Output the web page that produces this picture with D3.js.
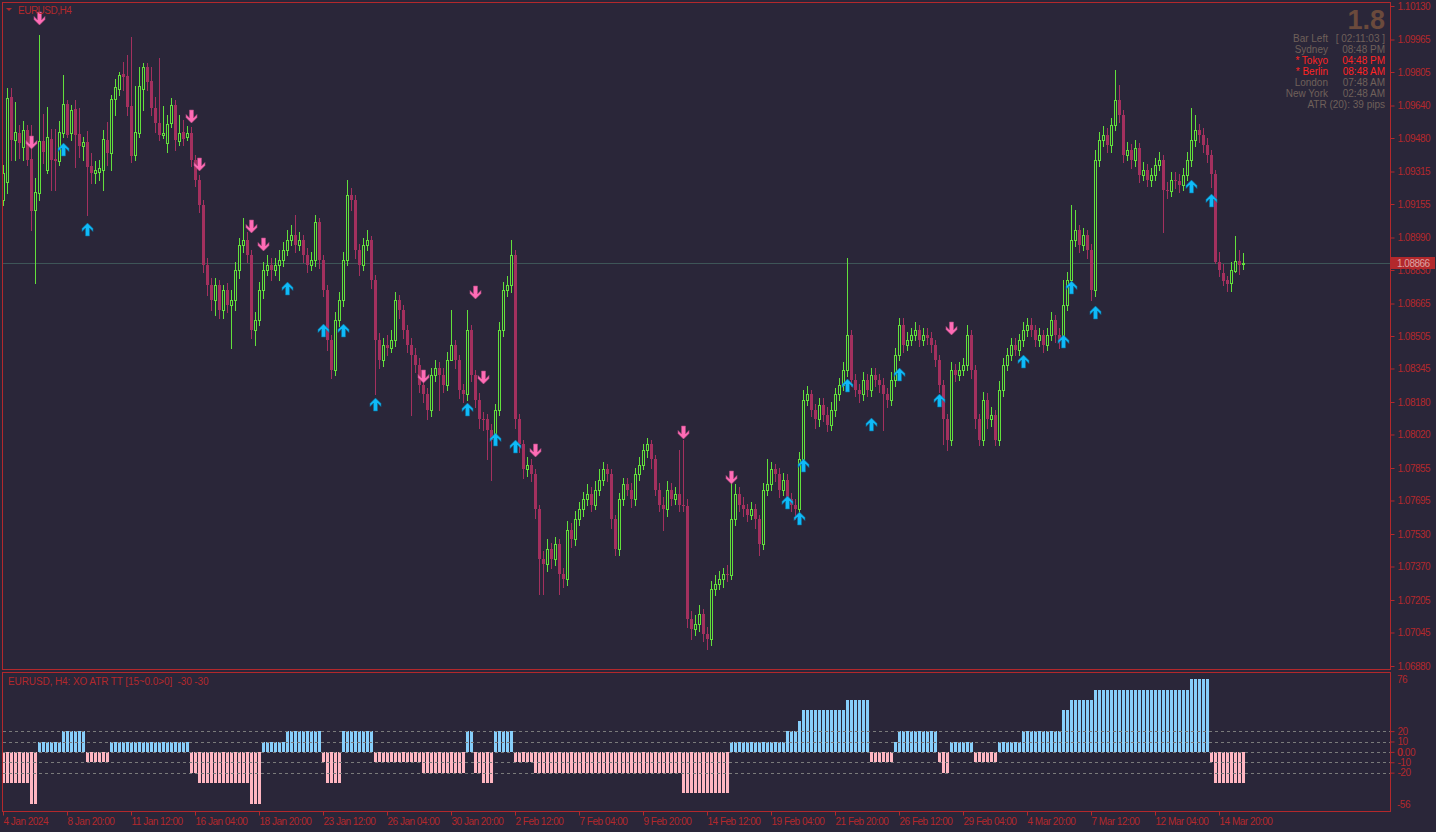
<!DOCTYPE html>
<html>
<head>
<meta charset="utf-8">
<title>EURUSD,H4</title>
<style>
body { margin: 0; background: #2a2639; overflow: hidden; }
svg { display: block; }
.axis text, .lbl { font-family: "Liberation Sans", Arial, sans-serif; font-size: 10px; letter-spacing: -0.5px; fill: #b3282c; }
.axis line { stroke: #b3282c; }
.axis path { display: none; }
.panel { font-family: "Liberation Sans", Arial, sans-serif; font-size: 10px; }
</style>
</head>
<body>
<script src="https://cdn.jsdelivr.net/npm/d3@7/dist/d3.min.js"></script>
<script>

var symbolTitle = "EURUSD,H4";
var indicatorTitle = "EURUSD, H4: XO ATR TT [15~0.0>0]  -30 -30";
var lastPrice = 1.08866;

// H4 candles, oldest first
var barOpen = [
1.09176,1.09265,1.09683,1.09471,1.09506,1.09437,1.09520,1.09378,1.09127,1.09210,
1.09466,1.09324,1.09476,1.09378,1.09368,1.09506,1.09648,1.09506,1.09624,1.09501,
1.09442,1.09461,1.09343,1.09309,1.09314,1.09324,1.09471,1.09407,1.09673,1.09722,
1.09796,1.09786,1.09639,1.09397,1.09506,1.09722,1.09830,1.09762,1.09629,1.09555,
1.09496,1.09456,1.09555,1.09643,1.09466,1.09511,1.09486,1.09506,1.09373,1.09274,
1.09151,1.08856,1.08758,1.08684,1.08758,1.08635,1.08733,1.08659,1.08684,1.08832,
1.08955,1.08979,1.08905,1.08536,1.08586,1.08733,1.08832,1.08856,1.08832,1.08856,
1.08881,1.08930,1.08979,1.09004,1.08955,1.08979,1.08905,1.08856,1.08881,1.09068,
1.08881,1.08733,1.08487,1.08340,1.08586,1.08684,1.08881,1.09201,1.09176,1.08930,
1.08856,1.08955,1.08979,1.08782,1.08487,1.08389,1.08463,1.08448,1.08487,1.08684,
1.08635,1.08536,1.08463,1.08413,1.08364,1.08266,1.08217,1.08143,1.08315,1.08349,
1.08315,1.08266,1.08389,1.08463,1.08389,1.08241,1.08217,1.08536,1.08315,1.08192,
1.08094,1.08094,1.08044,1.07995,1.08143,1.08536,1.08733,1.08758,1.08905,1.08094,
1.07971,1.07848,1.07872,1.07823,1.07651,1.07405,1.07380,1.07454,1.07405,1.07479,
1.07331,1.07306,1.07552,1.07503,1.07602,1.07651,1.07700,1.07725,1.07675,1.07749,
1.07798,1.07848,1.07823,1.07602,1.07454,1.07700,1.07774,1.07749,1.07700,1.07823,
1.07872,1.07946,1.07971,1.07897,1.07749,1.07675,1.07651,1.07749,1.07700,1.07725,
1.07675,1.07670,1.07110,1.07060,1.07085,1.07134,1.07036,1.07011,1.07257,1.07282,
1.07306,1.07331,1.07326,1.07602,1.07725,1.07675,1.07651,1.07626,1.07651,1.07602,
1.07479,1.07749,1.07774,1.07848,1.07823,1.07749,1.07798,1.07700,1.07675,1.07651,
1.07897,1.08192,1.08217,1.08143,1.08094,1.08167,1.08118,1.08069,1.08143,1.08217,
1.08266,1.08340,1.08512,1.08290,1.08241,1.08217,1.08290,1.08241,1.08315,1.08290,
1.08266,1.08217,1.08192,1.08290,1.08413,1.08561,1.08463,1.08487,1.08512,1.08536,
1.08487,1.08512,1.08497,1.08463,1.08389,1.08266,1.08094,1.07995,1.08340,1.08315,
1.08340,1.08364,1.08512,1.08340,1.08094,1.07995,1.08192,1.08094,1.08118,1.07995,
1.08241,1.08364,1.08413,1.08463,1.08438,1.08487,1.08536,1.08561,1.08536,1.08487,
1.08512,1.08463,1.08512,1.08586,1.08512,1.08487,1.08659,1.08782,1.08979,1.09028,
1.08955,1.09004,1.08930,1.08733,1.09373,1.09471,1.09496,1.09447,1.09545,1.09668,
1.09594,1.09397,1.09422,1.09373,1.09432,1.09299,1.09324,1.09274,1.09299,1.09348,
1.09373,1.09225,1.09220,1.09274,1.09270,1.09250,1.09299,1.09373,1.09471,1.09520,
1.09496,1.09447,1.09397,1.09304,1.08871,1.08817,1.08782,1.08768,1.08827,1.08876,
1.08861
];
var barHigh = [
1.09348,1.09727,1.09727,1.09658,1.09545,1.09565,1.09545,1.09545,1.09284,1.09988,
1.09599,1.09634,1.09525,1.09525,1.09565,1.09791,1.09668,1.09643,1.09668,1.09629,
1.09486,1.09516,1.09407,1.09368,1.09373,1.09520,1.09560,1.09693,1.09771,1.09806,
1.09855,1.09889,1.09978,1.09737,1.09830,1.09850,1.09850,1.09830,1.09683,1.09875,
1.09639,1.09594,1.09678,1.09668,1.09594,1.09570,1.09540,1.09535,1.09397,1.09299,
1.09176,1.08891,1.08792,1.08792,1.08782,1.08758,1.08768,1.08733,1.08871,1.08989,
1.09087,1.09019,1.08930,1.08625,1.08773,1.08871,1.08905,1.08891,1.08891,1.08930,
1.08969,1.09028,1.09053,1.09102,1.09019,1.09004,1.08940,1.08920,1.09102,1.09087,
1.08905,1.08758,1.08512,1.08625,1.08723,1.08920,1.09274,1.09235,1.09201,1.08960,
1.08989,1.09028,1.08999,1.08807,1.08522,1.08497,1.08512,1.08536,1.08723,1.08709,
1.08659,1.08561,1.08497,1.08448,1.08399,1.08300,1.08251,1.08349,1.08389,1.08379,
1.08349,1.08428,1.08635,1.08487,1.08413,1.08271,1.08635,1.08561,1.08340,1.08222,
1.08133,1.08123,1.08074,1.08172,1.08576,1.08773,1.08802,1.08979,1.08930,1.08123,
1.07995,1.07907,1.07897,1.07848,1.07675,1.07444,1.07503,1.07488,1.07513,1.07503,
1.07365,1.07592,1.07582,1.07641,1.07690,1.07739,1.07774,1.07759,1.07789,1.07848,
1.07887,1.07877,1.07848,1.07626,1.07730,1.07808,1.07808,1.07779,1.07857,1.07907,
1.07971,1.08005,1.07995,1.07921,1.07779,1.07710,1.07789,1.07779,1.07759,1.07946,
1.07995,1.07700,1.07149,1.07129,1.07179,1.07159,1.07070,1.07297,1.07326,1.07346,
1.07365,1.07375,1.07823,1.07774,1.07759,1.07710,1.07680,1.07690,1.07680,1.07626,
1.07779,1.07897,1.07887,1.07877,1.07857,1.07828,1.07823,1.07730,1.07700,1.07936,
1.08241,1.08261,1.08241,1.08172,1.08202,1.08202,1.08153,1.08182,1.08251,1.08300,
1.08379,1.08891,1.08536,1.08320,1.08271,1.08330,1.08320,1.08349,1.08349,1.08320,
1.08300,1.08251,1.08330,1.08448,1.08595,1.08595,1.08527,1.08546,1.08576,1.08561,
1.08546,1.08546,1.08527,1.08487,1.08413,1.08290,1.08123,1.08379,1.08369,1.08379,
1.08399,1.08561,1.08536,1.08364,1.08123,1.08231,1.08222,1.08153,1.08143,1.08281,
1.08399,1.08448,1.08497,1.08497,1.08517,1.08576,1.08595,1.08595,1.08561,1.08546,
1.08536,1.08546,1.08625,1.08610,1.08546,1.08782,1.08822,1.09151,1.09127,1.09053,
1.09038,1.09028,1.08960,1.09422,1.09511,1.09540,1.09530,1.09579,1.09816,1.09742,
1.09619,1.09461,1.09452,1.09471,1.09456,1.09363,1.09353,1.09333,1.09383,1.09412,
1.09397,1.09265,1.09314,1.09314,1.09304,1.09333,1.09412,1.09629,1.09594,1.09550,
1.09530,1.09481,1.09422,1.09324,1.08920,1.08861,1.08802,1.08871,1.08999,1.08930,
1.08915
];
var barLow = [
1.09151,1.09210,1.09373,1.09373,1.09383,1.09373,1.09348,1.09028,1.08768,1.09176,
1.09358,1.09309,1.09225,1.09225,1.09348,1.09486,1.09486,1.09471,1.09338,1.09388,
1.09373,1.09102,1.09260,1.09260,1.09274,1.09225,1.09348,1.09324,1.09594,1.09693,
1.09717,1.09594,1.09363,1.09373,1.09486,1.09619,1.09717,1.09594,1.09511,1.09471,
1.09481,1.09412,1.09535,1.09422,1.09447,1.09447,1.09471,1.09343,1.09245,1.09117,
1.08822,1.08709,1.08635,1.08610,1.08595,1.08595,1.08625,1.08448,1.08635,1.08792,
1.08920,1.08871,1.08497,1.08463,1.08561,1.08694,1.08807,1.08782,1.08807,1.08782,
1.08851,1.08905,1.08955,1.08920,1.08930,1.08871,1.08822,1.08832,1.08851,1.08841,
1.08704,1.08438,1.08300,1.08315,1.08556,1.08654,1.08856,1.09127,1.08891,1.08807,
1.08832,1.08930,1.08743,1.08217,1.08349,1.08359,1.08413,1.08428,1.08458,1.08595,
1.08497,1.08428,1.08118,1.08330,1.08231,1.08182,1.08094,1.08113,1.08281,1.08143,
1.08231,1.08241,1.08428,1.08349,1.08202,1.08182,1.08192,1.08281,1.08153,1.08054,
1.08044,1.07897,1.07798,1.07966,1.08118,1.08507,1.08704,1.08723,1.08054,1.07936,
1.07808,1.07818,1.07789,1.07611,1.07233,1.07233,1.07346,1.07365,1.07375,1.07233,
1.07267,1.07277,1.07464,1.07474,1.07572,1.07621,1.07671,1.07641,1.07651,1.07720,
1.07769,1.07789,1.07562,1.07429,1.07425,1.07671,1.07720,1.07661,1.07671,1.07798,
1.07848,1.07907,1.07857,1.07720,1.07641,1.07552,1.07621,1.07671,1.07680,1.07641,
1.07641,1.07070,1.07011,1.07031,1.07051,1.07001,1.06962,1.06982,1.07228,1.07257,
1.07267,1.07297,1.07306,1.07572,1.07641,1.07621,1.07592,1.07602,1.07562,1.07429,
1.07454,1.07720,1.07749,1.07789,1.07710,1.07720,1.07661,1.07641,1.07602,1.07621,
1.07867,1.08163,1.08113,1.08054,1.08064,1.08084,1.08035,1.08044,1.08113,1.08192,
1.08241,1.08310,1.08261,1.08212,1.08182,1.08192,1.08212,1.08212,1.08261,1.08231,
1.08044,1.08153,1.08163,1.08261,1.08389,1.08428,1.08438,1.08463,1.08487,1.08458,
1.08463,1.08468,1.08428,1.08359,1.08231,1.07971,1.07946,1.07966,1.08281,1.08290,
1.08315,1.08340,1.08300,1.08054,1.07966,1.07966,1.08054,1.08064,1.07966,1.07966,
1.08212,1.08340,1.08389,1.08409,1.08409,1.08458,1.08507,1.08507,1.08458,1.08458,
1.08428,1.08438,1.08487,1.08477,1.08448,1.08458,1.08635,1.08753,1.08950,1.08920,
1.08930,1.08891,1.08684,1.08704,1.09343,1.09442,1.09412,1.09412,1.09520,1.09560,
1.09363,1.09373,1.09333,1.09343,1.09265,1.09274,1.09245,1.09245,1.09274,1.09324,
1.09019,1.09186,1.09196,1.09235,1.09215,1.09225,1.09274,1.09343,1.09442,1.09461,
1.09412,1.09363,1.09240,1.08866,1.08802,1.08758,1.08728,1.08728,1.08822,1.08812,
1.08837
];
var barClose = [
1.09309,1.09678,1.09471,1.09511,1.09456,1.09520,1.09373,1.09122,1.09215,1.09466,
1.09412,1.09486,1.09373,1.09368,1.09511,1.09648,1.09496,1.09619,1.09496,1.09442,
1.09461,1.09338,1.09309,1.09324,1.09333,1.09476,1.09407,1.09673,1.09732,1.09791,
1.09781,1.09634,1.09393,1.09511,1.09737,1.09830,1.09757,1.09629,1.09555,1.09496,
1.09506,1.09550,1.09643,1.09471,1.09506,1.09476,1.09506,1.09373,1.09274,1.09151,
1.08856,1.08758,1.08684,1.08758,1.08635,1.08733,1.08659,1.08684,1.08832,1.08955,
1.08979,1.08905,1.08536,1.08586,1.08733,1.08832,1.08856,1.08832,1.08856,1.08881,
1.08930,1.08979,1.09004,1.08955,1.08979,1.08905,1.08856,1.08881,1.09068,1.08881,
1.08733,1.08487,1.08340,1.08586,1.08684,1.08881,1.09201,1.09176,1.08930,1.08856,
1.08955,1.08979,1.08782,1.08487,1.08389,1.08463,1.08448,1.08487,1.08684,1.08635,
1.08536,1.08463,1.08413,1.08364,1.08266,1.08217,1.08143,1.08315,1.08349,1.08315,
1.08266,1.08389,1.08463,1.08389,1.08241,1.08217,1.08536,1.08315,1.08192,1.08094,
1.08090,1.08044,1.07995,1.08143,1.08536,1.08733,1.08758,1.08905,1.08094,1.07971,
1.07848,1.07872,1.07823,1.07651,1.07405,1.07380,1.07454,1.07405,1.07479,1.07331,
1.07306,1.07552,1.07503,1.07602,1.07651,1.07700,1.07725,1.07675,1.07749,1.07798,
1.07848,1.07823,1.07602,1.07454,1.07700,1.07774,1.07749,1.07700,1.07823,1.07872,
1.07946,1.07971,1.07897,1.07749,1.07675,1.07651,1.07749,1.07700,1.07725,1.07675,
1.07670,1.07110,1.07060,1.07085,1.07134,1.07036,1.07011,1.07257,1.07282,1.07306,
1.07331,1.07326,1.07602,1.07725,1.07675,1.07651,1.07626,1.07651,1.07602,1.07479,
1.07749,1.07774,1.07848,1.07823,1.07749,1.07798,1.07700,1.07675,1.07651,1.07897,
1.08192,1.08217,1.08143,1.08094,1.08167,1.08118,1.08069,1.08143,1.08217,1.08266,
1.08340,1.08512,1.08290,1.08241,1.08217,1.08290,1.08241,1.08315,1.08290,1.08266,
1.08217,1.08192,1.08290,1.08413,1.08561,1.08463,1.08487,1.08512,1.08536,1.08487,
1.08512,1.08497,1.08463,1.08389,1.08266,1.08094,1.07995,1.08340,1.08315,1.08340,
1.08364,1.08512,1.08340,1.08094,1.07995,1.08192,1.08094,1.08118,1.07995,1.08241,
1.08364,1.08413,1.08463,1.08438,1.08487,1.08536,1.08561,1.08536,1.08487,1.08512,
1.08463,1.08512,1.08586,1.08512,1.08487,1.08659,1.08782,1.08979,1.09028,1.08955,
1.09004,1.08930,1.08733,1.09373,1.09471,1.09496,1.09447,1.09545,1.09668,1.09594,
1.09397,1.09422,1.09373,1.09432,1.09299,1.09324,1.09274,1.09299,1.09348,1.09373,
1.09225,1.09220,1.09274,1.09270,1.09250,1.09299,1.09373,1.09471,1.09520,1.09496,
1.09447,1.09397,1.09304,1.08871,1.08832,1.08778,1.08763,1.08832,1.08876,1.08856,
1.08866
];

// XO ATR TT histogram, one value per candle
var xoValues = [
-30,-30,-30,-30,-30,-30,-30,-50,-50,10,10,10,10,10,10,20,20,20,20,20,
20,-10,-10,-10,-10,-10,-10,10,10,10,10,10,10,10,10,10,10,10,10,10,
10,10,10,10,10,10,10,-20,-20,-30,-30,-30,-30,-30,-30,-30,-30,-30,-30,-30,
-30,-30,-50,-50,-50,10,10,10,10,10,10,20,20,20,20,20,20,20,20,20,
-10,-30,-30,-30,-30,20,20,20,20,20,20,20,20,-10,-10,-10,-10,-10,-10,-10,
-10,-10,-10,-10,-10,-20,-20,-20,-20,-20,-20,-20,-20,-20,-20,-20,20,20,-20,-20,
-30,-30,-30,20,20,20,20,20,-10,-10,-10,-10,-10,-20,-20,-20,-20,-20,-20,-20,
-20,-20,-20,-20,-20,-20,-20,-20,-20,-20,-20,-20,-20,-20,-20,-20,-20,-20,-20,-20,
-20,-20,-20,-20,-20,-20,-20,-20,-20,-20,-40,-40,-40,-40,-40,-40,-40,-40,-40,-40,
-40,-40,10,10,10,10,10,10,10,10,10,10,10,10,10,10,20,20,20,30,
40,40,40,40,40,40,40,40,40,40,40,50,50,50,50,50,50,-10,-10,-10,
-10,-10,-10,10,20,20,20,20,20,20,20,20,20,20,-10,-20,-20,10,10,10,
10,10,10,-10,-10,-10,-10,-10,-10,10,10,10,10,10,10,20,20,20,20,20,
20,20,20,20,20,40,40,50,50,50,50,50,50,60,60,60,60,60,60,60,
60,60,60,60,60,60,60,60,60,60,60,60,60,60,60,60,60,70,70,70,
70,70,-10,-30,-30,-30,-30,-30,-30,-30,-30
];

// signal arrows: candle index and price at the arrow tip
var sellArrowBars = [7, 9, 47, 49, 62, 65, 105, 118, 120, 133, 170, 182, 237];
var sellArrowPrices = [1.09427, 1.10037, 1.09555, 1.09319, 1.09014, 1.08925, 1.08276, 1.08689, 1.08271, 1.07907, 1.08000, 1.07774, 1.08512];
var buyArrowBars = [15, 21, 71, 80, 85, 93, 116, 123, 128, 196, 199, 200, 211, 217, 224, 234, 255, 265, 267, 273, 297, 302];
var buyArrowPrices = [1.09456, 1.09063, 1.08773, 1.08566, 1.08566, 1.08202, 1.08177, 1.08025, 1.07995, 1.07715, 1.07636, 1.07897,
                      1.08295, 1.08103, 1.08349, 1.08217, 1.08413, 1.08512, 1.08778, 1.08655, 1.09274, 1.09206];

var priceTicks = [1.10130, 1.09965, 1.09805, 1.09640, 1.09480, 1.09315, 1.09155, 1.08990, 1.08830, 1.08665, 1.08505,
                  1.08345, 1.08180, 1.08020, 1.07855, 1.07695, 1.07530, 1.07370, 1.07205, 1.07045, 1.06880];
var levelValues = [20, 10, 0, -10, -20];
var levelLabels = ["20", "10", "0.00", "-10", "-20"];
var xoMax = 76, xoMin = -56;

var timeLabelBars = [0, 16, 32, 48, 64, 80, 96, 112, 128, 144, 160, 176, 192, 208, 224, 240, 256, 272, 288, 304];
var timeLabels = ["4 Jan 2024", "8 Jan 20:00", "11 Jan 12:00", "16 Jan 04:00", "18 Jan 20:00", "23 Jan 12:00",
                  "26 Jan 04:00", "30 Jan 20:00", "2 Feb 12:00", "7 Feb 04:00", "9 Feb 20:00", "14 Feb 12:00",
                  "19 Feb 04:00", "21 Feb 20:00", "26 Feb 12:00", "29 Feb 04:00", "4 Mar 20:00", "7 Mar 12:00",
                  "12 Mar 04:00", "14 Mar 20:00"];

var spreadText = "1.8";
var sessionNames = ["Bar Left", "Sydney", "* Tokyo", "* Berlin", "London", "New York"];
var sessionTimes = ["[ 02:11:03 ]", "08:48 PM", "04:48 PM", "08:48 AM", "07:48 AM", "02:48 AM"];
var sessionOpen = [false, false, true, true, false, false];
var atrText = "ATR (20): 39 pips";

var bg = "#2a2639",
    frame = "#b3282c",
    bull = "#62e03c",
    bear = "#a3305e";

var width = 1436, height = 832;

var svg = d3.select("body").append("svg")
    .attr("width", width)
    .attr("height", height);

svg.append("rect").attr("width", width).attr("height", height).attr("fill", bg);

var x = d3.scaleLinear().domain([0, 310]).range([3.5, 1243.5]);
var y = d3.scaleLinear().domain([1.06880, 1.10130]).range([666, 6]);
var yXo = d3.scaleLinear().domain([xoMin, xoMax]).range([810, 673]);

// bid line
var bidY = Math.round(y(lastPrice)) + 0.5;
svg.append("line")
    .attr("x1", 2).attr("x2", 1390).attr("y1", bidY).attr("y2", bidY)
    .attr("stroke", "#3e5558").attr("shape-rendering", "crispEdges");

// candles
var bars = barClose.map(function(c, i) {
  return {i: i, o: barOpen[i], h: barHigh[i], l: barLow[i], c: c};
});

var candle = svg.append("g")
    .attr("shape-rendering", "crispEdges")
    .selectAll("g")
    .data(bars)
    .enter().append("g");

candle.append("line")
    .attr("x1", function(d) { return x(d.i); })
    .attr("x2", function(d) { return x(d.i); })
    .attr("y1", function(d) { return Math.round(y(d.h)); })
    .attr("y2", function(d) { return Math.round(y(d.l)) + 1; })
    .attr("stroke", function(d) { return d.c >= d.o ? bull : bear; });

candle.append("rect")
    .attr("x", function(d) { return d.c >= d.o ? x(d.i) - 1 : x(d.i) - 1.5; })
    .attr("width", function(d) { return d.c >= d.o ? 2 : 3; })
    .attr("y", function(d) {
      return d.c >= d.o ? Math.round(y(d.c)) + 0.5 : Math.round(y(d.o));
    })
    .attr("height", function(d) {
      return Math.max(1, Math.abs(Math.round(y(d.o)) - Math.round(y(d.c))));
    })
    .attr("fill", function(d) { return d.c >= d.o ? bg : bear; })
    .attr("stroke", function(d) { return d.c >= d.o ? bull : "none"; });

// arrows
var arrowShape = "M0,0L5.5,5.5L5.5,8.5L2,5L2,13L-2,13L-2,5L-5.5,8.5L-5.5,5.5Z";

svg.append("g").selectAll("path")
    .data(buyArrowBars)
    .enter().append("path")
    .attr("d", arrowShape)
    .attr("fill", "#0fbaf8")
    .attr("stroke", "#0a6f9c")
    .attr("stroke-width", 0.6)
    .attr("transform", function(d, k) {
      return "translate(" + x(d) + "," + Math.round(y(buyArrowPrices[k])) + ")";
    });

svg.append("g").selectAll("path")
    .data(sellArrowBars)
    .enter().append("path")
    .attr("d", arrowShape)
    .attr("fill", "#ff6cb6")
    .attr("stroke", "#b04a80")
    .attr("stroke-width", 0.6)
    .attr("transform", function(d, k) {
      return "translate(" + x(d) + "," + Math.round(y(sellArrowPrices[k])) + ") scale(1,-1)";
    });

// indicator histogram
svg.append("g")
    .attr("shape-rendering", "crispEdges")
    .selectAll("rect")
    .data(xoValues)
    .enter().append("rect")
    .attr("x", function(d, i) { return x(i) - 1.5; })
    .attr("width", 3)
    .attr("y", function(d) { return Math.round(yXo(Math.max(0, d))); })
    .attr("height", function(d) { return Math.abs(Math.round(yXo(d)) - Math.round(yXo(0))); })
    .attr("fill", function(d) { return d > 0 ? "#87cefa" : "#ffb6c1"; });

svg.append("g").selectAll("line")
    .data(levelValues)
    .enter().append("line")
    .attr("x1", 3).attr("x2", 1390)
    .attr("y1", function(d) { return Math.round(yXo(d)) + 0.5; })
    .attr("y2", function(d) { return Math.round(yXo(d)) + 0.5; })
    .attr("stroke", "#7a7a7a")
    .attr("stroke-dasharray", "3,3")
    .attr("shape-rendering", "crispEdges");

// window frames
var frames = svg.append("g").attr("fill", "none").attr("stroke", frame).attr("shape-rendering", "crispEdges");
frames.append("rect").attr("x", 2.5).attr("y", 2.5).attr("width", 1388).attr("height", 667);
frames.append("rect").attr("x", 2.5).attr("y", 672.5).attr("width", 1388).attr("height", 139);

// price axis
svg.append("g")
    .attr("class", "axis")
    .attr("transform", "translate(1390.5,0)")
    .call(d3.axisRight(y).tickValues(priceTicks).tickSize(4).tickPadding(3).tickFormat(d3.format(".5f")));

// bid price label
svg.append("rect")
    .attr("x", 1391).attr("y", bidY - 6.5).attr("width", 44).attr("height", 12)
    .attr("fill", "#b3282c");
svg.append("text")
    .attr("class", "lbl")
    .attr("x", 1397).attr("y", bidY + 3.5)
    .style("fill", "#dca3a3")
    .text(d3.format(".5f")(lastPrice));

// indicator axis
svg.append("g")
    .attr("class", "axis")
    .attr("transform", "translate(1390.5,0)")
    .call(d3.axisRight(yXo).tickValues(levelValues).tickSize(4).tickPadding(3)
      .tickFormat(function(d, k) { return levelLabels[k]; }));

svg.append("text").attr("class", "lbl").attr("x", 1397).attr("y", Math.round(yXo(0)) + 4).text("0");
svg.append("text").attr("class", "lbl").attr("x", 1397).attr("y", yXo(xoMax) + 10).text(xoMax);
svg.append("text").attr("class", "lbl").attr("x", 1397).attr("y", yXo(xoMin) - 2).text(xoMin);

// time axis
var timeAxis = svg.append("g")
    .attr("class", "axis")
    .attr("transform", "translate(-0.5,811.5)")
    .call(d3.axisBottom(x).tickValues(timeLabelBars).tickSize(4)
      .tickFormat(function(d, k) { return timeLabels[k]; }));
timeAxis.selectAll("text")
    .attr("text-anchor", "start")
    .attr("x", 0)
    .attr("y", 13)
    .attr("dy", null);

// titles
svg.append("path").attr("d", "M6,8L12,8L9,11Z").attr("fill", frame);
svg.append("text").attr("class", "lbl").attr("x", 18).attr("y", 14).text(symbolTitle);
svg.append("text").attr("class", "lbl").attr("x", 8).attr("y", 685)
    .attr("xml:space", "preserve")
    .style("letter-spacing", "-0.1px")
    .text(indicatorTitle);

// info panel
var panelText = "#6f605a", panelRed = "#ff2424";
svg.append("text")
    .attr("class", "panel")
    .attr("x", 1385).attr("y", 29)
    .attr("text-anchor", "end")
    .style("font-size", "27px").style("font-weight", "bold")
    .attr("fill", "#6b4a3c")
    .text(spreadText);

sessionNames.forEach(function(name, k) {
  var rowY = 42 + k * 11;
  var c = sessionOpen[k] ? panelRed : panelText;
  svg.append("text").attr("class", "panel").attr("x", 1328).attr("y", rowY)
      .attr("text-anchor", "end").attr("fill", c).text(name);
  svg.append("text").attr("class", "panel").attr("x", 1385).attr("y", rowY)
      .attr("text-anchor", "end").attr("fill", c).text(sessionTimes[k]);
});
svg.append("text").attr("class", "panel").attr("x", 1385).attr("y", 42 + 6 * 11)
    .attr("text-anchor", "end").attr("fill", panelText).text(atrText);

</script>
</body>
</html>
